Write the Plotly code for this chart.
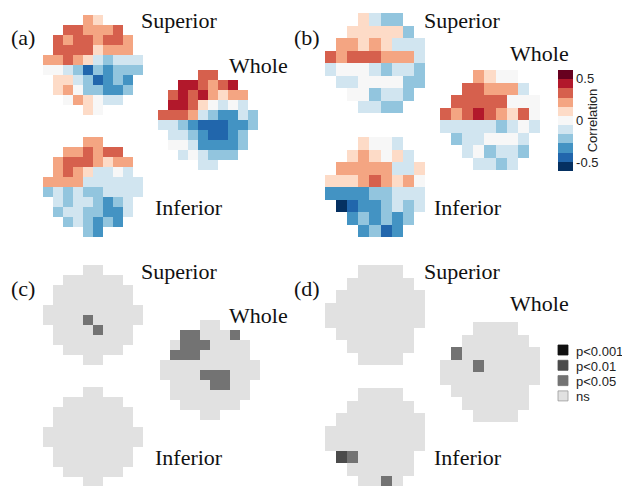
import plotly.graph_objects as go

W, H = 622, 486
N = None

# ---------------- correlation maps (panel a: 10x10 grid) ----------------
a_superior = [
    [N, N, N, N, 0.22, 0.11, N, N, N, N],
    [N, N, 0.33, 0.33, 0.22, 0.22, 0.22, 0.33, N, N],
    [N, 0.33, 0.22, 0.33, 0.33, 0.22, 0.33, 0.33, 0.22, N],
    [N, 0.33, 0.33, 0.33, 0.33, 0.11, 0.22, 0.22, 0.22, N],
    [0.22, 0.22, 0.33, 0.22, 0.11, -0.11, -0.22, -0.11, -0.11, -0.11],
    [0.0, 0.0, -0.11, -0.22, -0.45, -0.22, -0.33, -0.22, -0.22, -0.22],
    [N, 0.11, 0.11, -0.11, -0.22, -0.45, -0.33, -0.22, -0.33, N],
    [N, 0.11, 0.22, 0.0, -0.22, -0.22, -0.33, -0.33, -0.22, N],
    [N, N, 0.0, 0.22, 0.11, 0.0, -0.11, -0.11, N, N],
    [N, N, N, N, 0.11, 0.0, N, N, N, N],
]
a_whole = [
    [N, N, N, N, 0.33, 0.33, N, N, N, N],
    [N, N, 0.45, 0.45, 0.33, 0.22, 0.33, 0.45, N, N],
    [N, 0.33, 0.45, 0.33, 0.45, 0.22, 0.11, 0.22, 0.22, N],
    [N, 0.45, 0.45, 0.33, 0.11, 0.0, -0.11, 0.0, -0.11, N],
    [0.33, 0.33, 0.33, 0.22, -0.11, -0.22, -0.33, -0.33, -0.11, -0.22],
    [-0.11, -0.11, -0.22, -0.33, -0.45, -0.45, -0.45, -0.33, -0.33, -0.22],
    [N, -0.11, -0.11, -0.22, -0.33, -0.45, -0.45, -0.33, -0.22, N],
    [N, 0.0, 0.0, -0.11, -0.33, -0.33, -0.33, -0.33, -0.22, N],
    [N, N, -0.11, 0.0, -0.11, -0.22, -0.22, -0.22, N, N],
    [N, N, N, N, -0.11, -0.11, N, N, N, N],
]
a_inferior = [
    [N, N, N, N, 0.22, 0.22, N, N, N, N],
    [N, N, 0.22, 0.22, 0.33, 0.22, 0.33, 0.33, N, N],
    [N, 0.22, 0.33, 0.33, 0.33, 0.22, 0.11, 0.22, 0.22, N],
    [N, 0.22, 0.33, 0.22, 0.11, -0.11, -0.11, 0.0, -0.11, N],
    [0.22, 0.22, 0.22, 0.22, -0.11, -0.11, -0.11, -0.11, -0.11, -0.11],
    [-0.22, -0.11, -0.22, -0.11, -0.22, -0.22, -0.11, -0.11, -0.11, -0.11],
    [N, -0.11, -0.22, -0.11, -0.11, -0.22, -0.33, -0.22, -0.11, N],
    [N, -0.22, -0.11, -0.11, -0.22, -0.22, -0.33, -0.33, -0.11, N],
    [N, N, -0.22, -0.11, -0.22, -0.33, -0.22, -0.33, N, N],
    [N, N, N, N, -0.22, -0.33, N, N, N, N],
]

# ---------------- correlation maps (panel b: 9 cols x 8 rows) ----------------
b_superior = [
    [N, N, N, 0.11, -0.11, -0.22, -0.22, N, N],
    [N, N, 0.11, 0.11, 0.11, 0.11, 0.11, -0.22, N],
    [N, 0.22, 0.22, 0.11, 0.22, 0.11, -0.11, -0.11, -0.11],
    [0.33, 0.22, 0.33, 0.33, 0.33, 0.22, 0.22, 0.22, -0.11],
    [-0.11, 0.0, 0.0, 0.0, -0.11, -0.22, -0.11, -0.11, -0.22],
    [N, -0.11, -0.11, 0.0, 0.0, 0.0, 0.0, -0.22, -0.22],
    [N, N, 0.0, 0.0, -0.22, -0.11, -0.11, -0.22, N],
    [N, N, N, -0.11, -0.11, -0.22, -0.22, N, N],
]
b_whole = [
    [N, N, N, 0.22, 0.11, 0.0, 0.0, N, N],
    [N, N, 0.33, 0.33, 0.22, 0.22, 0.22, -0.11, N],
    [N, 0.33, 0.33, 0.33, 0.33, 0.33, 0.0, 0.0, 0.0],
    [0.33, 0.22, 0.33, 0.45, 0.33, 0.22, 0.11, 0.33, 0.0],
    [-0.11, -0.11, -0.11, -0.11, -0.11, -0.22, -0.11, 0.0, -0.11],
    [N, -0.22, -0.11, -0.11, 0.0, 0.0, 0.0, -0.11, N],
    [N, N, -0.11, 0.0, -0.22, -0.11, -0.11, -0.22, N],
    [N, N, N, -0.11, -0.11, -0.22, -0.11, N, N],
]
b_inferior = [
    [N, N, N, 0.11, 0.0, 0.0, -0.11, N, N],
    [N, N, 0.11, 0.22, 0.11, 0.0, 0.11, -0.11, N],
    [N, 0.22, 0.22, 0.22, 0.22, 0.22, -0.11, -0.11, 0.11],
    [0.11, 0.11, 0.11, 0.22, 0.33, 0.22, 0.11, 0.22, 0.0],
    [-0.33, -0.33, -0.33, -0.33, -0.22, -0.22, -0.11, -0.11, -0.11],
    [N, -0.55, -0.45, -0.33, -0.33, -0.22, -0.11, -0.22, -0.11],
    [N, N, -0.33, -0.22, -0.33, -0.22, -0.33, -0.22, N],
    [N, N, N, -0.33, -0.22, -0.45, -0.33, N, N],
]

# ---------------- significance maps: 0 ns, 1 p<0.05, 2 p<0.01, 3 p<0.001 ----------------
c_superior = [
    [N, N, N, N, 0, 0, N, N, N, N],
    [N, N, 0, 0, 0, 0, 0, 0, N, N],
    [N, 0, 0, 0, 0, 0, 0, 0, 0, N],
    [N, 0, 0, 0, 0, 0, 0, 0, 0, N],
    [0, 0, 0, 0, 0, 0, 0, 0, 0, 0],
    [0, 0, 0, 0, 1, 0, 0, 0, 0, 0],
    [N, 0, 0, 0, 0, 1, 0, 0, 0, N],
    [N, 0, 0, 0, 0, 0, 0, 0, 0, N],
    [N, N, 0, 0, 0, 0, 0, 0, N, N],
    [N, N, N, N, 0, 0, N, N, N, N],
]
c_whole = [
    [N, N, N, N, 0, 0, N, N, N, N],
    [N, N, 1, 1, 0, 0, 0, 1, N, N],
    [N, 0, 1, 1, 1, 0, 0, 0, 0, N],
    [N, 1, 1, 1, 0, 0, 0, 0, 0, N],
    [0, 0, 0, 0, 0, 0, 0, 0, 0, 0],
    [0, 0, 0, 0, 1, 1, 1, 0, 0, 0],
    [N, 0, 0, 0, 0, 1, 1, 0, 0, N],
    [N, 0, 0, 0, 0, 0, 0, 0, 0, N],
    [N, N, 0, 0, 0, 0, 0, 0, N, N],
    [N, N, N, N, 0, 0, N, N, N, N],
]
c_inferior = [
    [N, N, N, N, 0, 0, N, N, N, N],
    [N, N, 0, 0, 0, 0, 0, 0, N, N],
    [N, 0, 0, 0, 0, 0, 0, 0, 0, N],
    [N, 0, 0, 0, 0, 0, 0, 0, 0, N],
    [0, 0, 0, 0, 0, 0, 0, 0, 0, 0],
    [0, 0, 0, 0, 0, 0, 0, 0, 0, 0],
    [N, 0, 0, 0, 0, 0, 0, 0, 0, N],
    [N, 0, 0, 0, 0, 0, 0, 0, 0, N],
    [N, N, 0, 0, 0, 0, 0, 0, N, N],
    [N, N, N, N, 0, 0, N, N, N, N],
]
d_superior = [
    [N, N, N, 0, 0, 0, 0, N, N],
    [N, N, 0, 0, 0, 0, 0, 0, N],
    [N, 0, 0, 0, 0, 0, 0, 0, 0],
    [0, 0, 0, 0, 0, 0, 0, 0, 0],
    [0, 0, 0, 0, 0, 0, 0, 0, 0],
    [N, 0, 0, 0, 0, 0, 0, 0, N],
    [N, N, 0, 0, 0, 0, 0, 0, N],
    [N, N, N, 0, 0, 0, 0, N, N],
]
d_whole = [
    [N, N, N, 0, 0, 0, 0, N, N],
    [N, N, 0, 0, 0, 0, 0, 0, N],
    [N, 1, 0, 0, 0, 0, 0, 0, 0],
    [0, 0, 0, 1, 0, 0, 0, 0, 0],
    [0, 0, 0, 0, 0, 0, 0, 0, 0],
    [N, 0, 0, 0, 0, 0, 0, 0, N],
    [N, N, 0, 0, 0, 0, 0, 0, N],
    [N, N, N, 0, 0, 0, 0, N, N],
]
d_inferior = [
    [N, N, N, 0, 0, 0, 0, N, N],
    [N, N, 0, 0, 0, 0, 0, 0, N],
    [N, 0, 0, 0, 0, 0, 0, 0, 0],
    [0, 0, 0, 0, 0, 0, 0, 0, 0],
    [0, 0, 0, 0, 0, 0, 0, 0, 0],
    [N, 2, 1, 0, 0, 0, 0, 0, N],
    [N, N, 0, 0, 0, 0, 0, 0, N],
    [N, N, N, 0, 0, 1, 0, N, N],
]

region_labels = ["Superior", "Whole", "Inferior"]
panel_labels = ["(a)", "(b)", "(c)", "(d)"]
corr_ticks = [-0.5, 0, 0.5]
corr_ticktext = ["-0.5", "0", "0.5"]
sig_levels = ["p<0.001", "p<0.01", "p<0.05", "ns"]

# ---------------- styles / layout constants ----------------
rdbu = ['#053061', '#2166ac', '#4393c3', '#92c5de', '#d1e5f0', '#f7f7f7',
        '#fddbc7', '#f4a582', '#d6604d', '#b2182b', '#67001f']
sig_colors = ['#e1e1e1', '#737373', '#4b4b4b', '#111111']  # ns, .05, .01, .001


def discrete(colors):
    n = len(colors)
    sc = []
    for i, c in enumerate(colors):
        sc.append([i / n, c])
        sc.append([(i + 1) / n, c])
    return sc


# pixel placement of each grid: (left, top, cell_w, cell_h)
grids = [
    (a_superior, 43, 15, 10, 10, 'coloraxis'),
    (a_whole, 158, 70, 10, 10, 'coloraxis'),
    (a_inferior, 43, 137, 10, 10, 'coloraxis'),
    (b_superior, 325, 13, 11.1, 12.5, 'coloraxis'),
    (b_whole, 440, 70, 11.1, 12.5, 'coloraxis'),
    (b_inferior, 325, 137, 11.1, 12.5, 'coloraxis'),
    (c_superior, 43, 265, 10, 10, 'coloraxis2'),
    (c_whole, 160, 320, 10, 10, 'coloraxis2'),
    (c_inferior, 43, 387, 10, 10, 'coloraxis2'),
    (d_superior, 325, 265, 11.1, 12.5, 'coloraxis2'),
    (d_whole, 440, 322, 11.1, 12.5, 'coloraxis2'),
    (d_inferior, 325, 388, 11.1, 12.5, 'coloraxis2'),
]

fig = go.Figure()
layout_axes = {}
for k, (z, x0, y0, cw, ch, cax) in enumerate(grids, start=1):
    nr, nc = len(z), len(z[0])
    x1, y1 = x0 + nc * cw, y0 + nr * ch
    ya0, ya1 = max(y0, 0), min(y1, H)
    r_top = -0.5 + (ya0 - y0) / ch
    r_bot = -0.5 + (ya1 - y0) / ch
    sfx = '' if k == 1 else str(k)
    fig.add_trace(go.Heatmap(z=z, coloraxis=cax, xaxis='x' + sfx, yaxis='y' + sfx,
                             hoverongaps=False, xgap=0, ygap=0))
    layout_axes['xaxis' + sfx] = dict(domain=[x0 / W, x1 / W], range=[-0.5, nc - 0.5],
                                      visible=False, fixedrange=True, anchor='y' + sfx)
    layout_axes['yaxis' + sfx] = dict(domain=[1 - ya1 / H, 1 - ya0 / H], range=[r_bot, r_top],
                                      visible=False, fixedrange=True, anchor='x' + sfx)

serif = "Liberation Serif, Times New Roman, serif"
sans = "Liberation Sans, Arial, sans-serif"

annotations = []
# region labels: (text index, left px, center y px)
label_pos = [
    (0, 139, 21), (1, 227, 65), (2, 153, 207),
    (0, 422, 21), (1, 508, 53), (2, 432, 207),
    (0, 139, 271), (1, 227, 315), (2, 153, 457),
    (0, 422, 271), (1, 508, 303), (2, 432, 457),
]
for idx, px, py in label_pos:
    annotations.append(dict(text=region_labels[idx], x=px / W, y=1 - py / H, xref='paper', yref='paper',
                            xanchor='left', yanchor='middle', showarrow=False,
                            font=dict(family=serif, size=22, color='#111')))
panel_pos = [(9, 38), (292, 38), (9, 288), (292, 288)]
for t, (px, py) in zip(panel_labels, panel_pos):
    annotations.append(dict(text=t, x=px / W, y=1 - py / H, xref='paper', yref='paper',
                            xanchor='left', yanchor='middle', showarrow=False,
                            font=dict(family=serif, size=22, color='#111')))

# significance legend (manual)
shapes = []
leg_colors = [sig_colors[3], sig_colors[2], sig_colors[1], sig_colors[0]]
for i, (lab, col) in enumerate(zip(sig_levels, leg_colors)):
    yc = 350 + i * 15.3
    shapes.append(dict(type='rect', xref='paper', yref='paper',
                       x0=558 / W, x1=568 / W, y0=1 - (yc + 5) / H, y1=1 - (yc - 5) / H,
                       fillcolor=col, line=dict(color='#999' if i == 3 else col, width=0.8)))
    annotations.append(dict(text=lab, x=574 / W, y=1 - (yc + 1) / H, xref='paper', yref='paper',
                            xanchor='left', yanchor='middle', showarrow=False,
                            font=dict(family=sans, size=13, color='#222')))

fig.update_layout(
    width=W, height=H, margin=dict(l=0, r=0, t=0, b=0, pad=0),
    paper_bgcolor='white', plot_bgcolor='rgba(0,0,0,0)', showlegend=False,
    coloraxis=dict(colorscale=discrete(rdbu), cmin=-0.6, cmax=0.6,
                   colorbar=dict(thicknessmode='pixels', thickness=15, lenmode='pixels', len=101,
                                 x=558 / W, xanchor='left', y=1 - 70 / H, yanchor='top',
                                 xpad=0, ypad=0, outlinewidth=0,
                                 tickvals=corr_ticks, ticktext=corr_ticktext, ticks='',
                                 tickfont=dict(family=sans, size=13, color='#222'),
                                 title=dict(text='Correlation', side='right',
                                            font=dict(family=sans, size=13, color='#222')))),
    coloraxis2=dict(colorscale=discrete(sig_colors), cmin=-0.5, cmax=3.5, showscale=False),
    annotations=annotations, shapes=shapes,
    **layout_axes,
)

fig.write_html("out.html", config={"displayModeBar": False},
               post_script="document.body.style.margin='0';document.body.style.overflow='hidden';")
